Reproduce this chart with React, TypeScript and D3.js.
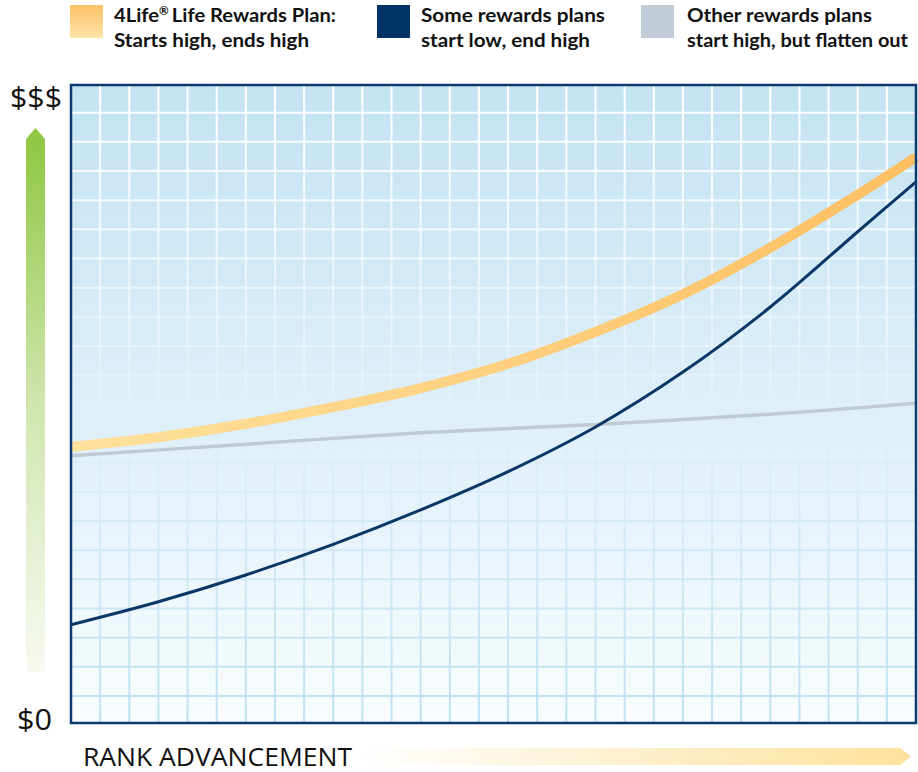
import * as d3 from "d3";

// rank steps along the x axis (grid columns) and the plotted "earnings" levels (0 = $0, 100 = $$$)
const ranks = [0, 3, 6, 9, 12, 15, 18, 21, 24, 27, 29];
const lifeRewards = [43.3, 44.8, 46.9, 49.5, 52.5, 56.3, 61.3, 67.2, 74.5, 82.8, 88.7];
const startLow = [15.4, 19.0, 23.2, 28.0, 33.4, 39.4, 46.4, 55.0, 65.2, 77.0, 84.8];
const flattenRanks = [0, 6, 12, 18, 24, 29];
const flatten = [41.9, 43.7, 45.5, 46.8, 48.4, 50.1];

const legendItems = [
  { id: "life", lines: ["4Life", "Starts high, ends high"], widths: [222, 195] },
  { id: "low", lines: ["Some rewards plans", "start low, end high"], widths: [184, 169] },
  { id: "flat", lines: ["Other rewards plans", "start high, but flatten out"], widths: [185, 221] },
];

const W = 918;
const H = 772;
const margin = { top: 85, right: 2, bottom: 49, left: 71 };

export default function App() {
  const x = d3.scaleLinear().domain([0, 29]).range([margin.left, W - margin.right]);
  const y = d3.scaleLinear().domain([0, 100]).range([H - margin.bottom, margin.top]);
  const gridRow = d3.scaleLinear().domain([0, 20]).range([696, 112.7]);

  const line = d3
    .line<[number, number]>()
    .x((d) => x(d[0]))
    .y((d) => y(d[1]))
    .curve(d3.curveCatmullRom.alpha(0.5));

  const lifePath = line(ranks.map((r, i) => [r, lifeRewards[i]]));
  const lowPath = line(ranks.map((r, i) => [r, startLow[i]]));
  const flatPath = line(flattenRanks.map((r, i) => [r, flatten[i]]));

  const x0 = x(0);
  const x1 = x(29);
  const yTop = y(100);
  const yBot = y(0);

  const legendX = [70, 377, 641];
  const labelFont = "'Lato', 'DejaVu Sans', sans-serif";
  const axisFont = "'Open Sans', 'Noto Sans', sans-serif";

  return (
    <svg
      width={W}
      height={H}
      style={{ position: "absolute", left: 0, top: 0, background: "#fff" }}
    >
      <defs>
        <linearGradient id="bg" x1="0" y1="0" x2="0" y2="1">
          <stop offset="0" stopColor="#c3e3f3" />
          <stop offset="0.55" stopColor="#e0f0f9" />
          <stop offset="1" stopColor="#f8fcfe" />
        </linearGradient>
        <linearGradient id="gridStroke" gradientUnits="userSpaceOnUse" x1="0" y1={yTop} x2="0" y2={yBot}>
          <stop offset="0" stopColor="#ffffff" />
          <stop offset="0.5" stopColor="#e2f1f9" />
          <stop offset="1" stopColor="#bfe1f2" />
        </linearGradient>
        <linearGradient id="orangeLine" gradientUnits="userSpaceOnUse" x1={x0} y1="0" x2={x1} y2="0">
          <stop offset="0" stopColor="#fee19c" />
          <stop offset="1" stopColor="#fdbf62" />
        </linearGradient>
        <linearGradient id="orangeSwatch" x1="0" y1="0" x2="0" y2="1">
          <stop offset="0" stopColor="#fdc066" />
          <stop offset="1" stopColor="#fee6a8" />
        </linearGradient>
        <linearGradient id="greenArrow" x1="0" y1="0" x2="0" y2="1">
          <stop offset="0" stopColor="#8cc63f" />
          <stop offset="0.5" stopColor="#cfe5ad" />
          <stop offset="1" stopColor="#f7faf1" />
        </linearGradient>
        <linearGradient id="rankArrow" x1="0" y1="0" x2="1" y2="0">
          <stop offset="0" stopColor="#ffffff" />
          <stop offset="1" stopColor="#fde09a" />
        </linearGradient>
      </defs>

      {/* legend */}
      {legendItems.map((item, i) => (
        <g key={item.id}>
          <rect
            x={legendX[i]}
            y={5}
            width={33}
            height={33}
            fill={item.id === "life" ? "url(#orangeSwatch)" : item.id === "low" ? "#003466" : "#c0ccd8"}
          />
          {item.lines.map((t, j) =>
            item.id === "life" && j === 0 ? (
              <text
                key={j}
                x={legendX[i] + 44}
                y={22}
                fontFamily={labelFont}
                fontWeight={700}
                fontSize={19}
                textLength={item.widths[0]}
                lengthAdjust="spacingAndGlyphs"
                fill="#111"
              >
                {t}
                <tspan fontSize={11} dy={-7}>®</tspan>
                <tspan dy={7} dx={3}>Life Rewards Plan:</tspan>
              </text>
            ) : (
              <text
                key={j}
                x={legendX[i] + (i === 2 ? 46 : 44)}
                y={22 + j * 25}
                fontFamily={labelFont}
                fontWeight={700}
                fontSize={19}
                textLength={item.widths[j]}
                lengthAdjust="spacingAndGlyphs"
                fill="#111"
              >
                {t}
              </text>
            )
          )}
        </g>
      ))}

      {/* plot background */}
      <rect x={x0} y={yTop} width={x1 - x0} height={yBot - yTop} fill="url(#bg)" />

      {/* grid */}
      <g stroke="url(#gridStroke)" strokeWidth={2}>
        {d3.range(1, 29).map((r) => (
          <line key={"v" + r} x1={x(r)} x2={x(r)} y1={yTop} y2={yBot} />
        ))}
        {d3.range(21).map((k) => (
          <line key={"h" + k} x1={x0} x2={x1} y1={gridRow(k)} y2={gridRow(k)} />
        ))}
      </g>

      {/* series */}
      <path d={flatPath ?? ""} fill="none" stroke="#c0cad4" strokeWidth={3.5} />
      <path d={lifePath ?? ""} fill="none" stroke="url(#orangeLine)" strokeWidth={10} />
      <path d={lowPath ?? ""} fill="none" stroke="#0b3766" strokeWidth={3} />

      {/* frame */}
      <rect
        x={x0}
        y={yTop}
        width={x1 - x0}
        height={yBot - yTop}
        fill="none"
        stroke="#0b3a6d"
        strokeWidth={2.5}
      />

      {/* y-axis labels and arrow */}
      <text x={10} y={108} fontFamily={axisFont} fontSize={29} textLength={52} lengthAdjust="spacingAndGlyphs" fill="#111">
        $$$
      </text>
      <path d="M26,139 L35.5,128 L45,139 L45,672 L26,672 Z" fill="url(#greenArrow)" />
      <text x={17} y={730} fontFamily={axisFont} fontSize={29} textLength={35} lengthAdjust="spacingAndGlyphs" fill="#111">
        $0
      </text>

      {/* x-axis label and arrow */}
      <text x={83} y={766} fontFamily={axisFont} fontSize={26} textLength={269} lengthAdjust="spacingAndGlyphs" fill="#111">
        RANK ADVANCEMENT
      </text>
      <path d="M362,748 L900,748 L911,756.5 L900,765 L362,765 Z" fill="url(#rankArrow)" />
    </svg>
  );
}
